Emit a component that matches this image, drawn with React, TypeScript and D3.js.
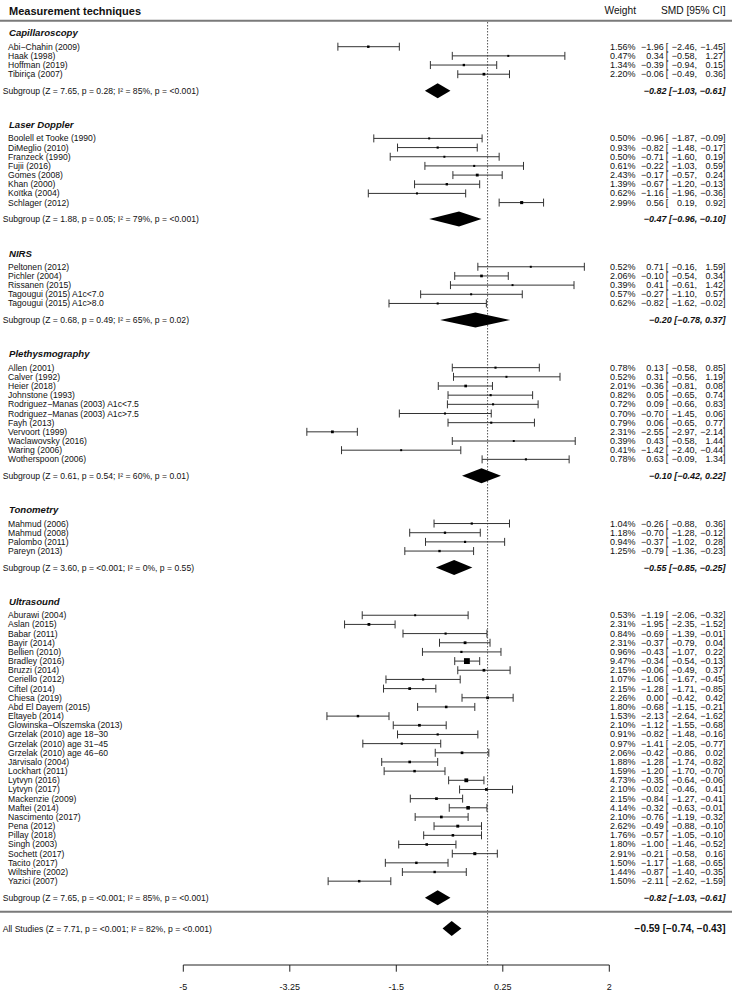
import React from "react";
import * as d3 from "d3";

// ---------- data ----------
const groupNames = ["Capillaroscopy", "Laser Doppler", "NIRS", "Plethysmography", "Tonometry", "Ultrasound"];
const groupSizes = [4, 8, 5, 11, 4, 30];
const groupStats = [
  "Subgroup (Z = 7.65, p = 0.28; I² = 85%, p = <0.001)",
  "Subgroup (Z = 1.88, p = 0.05; I² = 79%, p = <0.001)",
  "Subgroup (Z = 0.68, p = 0.49; I² = 65%, p = 0.02)",
  "Subgroup (Z = 0.61, p = 0.54; I² = 60%, p = 0.01)",
  "Subgroup (Z = 3.60, p = <0.001; I² = 0%, p = 0.55)",
  "Subgroup (Z = 7.65, p = <0.001; I² = 85%, p = <0.001)",
];
const groupEst = [-0.82, -0.47, -0.2, -0.1, -0.55, -0.82];
const groupLo = [-1.03, -0.96, -0.78, -0.42, -0.85, -1.03];
const groupHi = [-0.61, -0.1, 0.37, 0.22, -0.25, -0.61];

const studyLabels = [
  "Abi−Chahin (2009)", "Haak (1998)", "Hoffman (2019)", "Tibiriça (2007)",
  "Boolell et Tooke (1990)", "DiMeglio (2010)", "Franzeck (1990)", "Fujii (2016)", "Gomes (2008)", "Khan (2000)", "Koïtka (2004)", "Schlager (2012)",
  "Peltonen (2012)", "Pichler (2004)", "Rissanen (2015)", "Tagougui (2015) A1c<7.0", "Tagougui (2015) A1c>8.0",
  "Allen (2001)", "Calver (1992)", "Heier (2018)", "Johnstone (1993)", "Rodriguez−Manas (2003) A1c<7.5", "Rodriguez−Manas (2003) A1c>7.5", "Fayh (2013)", "Vervoort (1999)", "Waclawovsky (2016)", "Waring (2006)", "Wotherspoon (2006)",
  "Mahmud (2006)", "Mahmud (2008)", "Palombo (2011)", "Pareyn (2013)",
  "Aburawi (2004)", "Aslan (2015)", "Babar (2011)", "Bayir (2014)", "Bellien (2010)", "Bradley (2016)", "Bruzzi (2014)", "Ceriello (2012)", "Ciftel (2014)", "Chiesa (2019)", "Abd El Dayem (2015)", "Eltayeb (2014)", "Glowinska−Olszemska (2013)", "Grzelak (2010) age 18−30", "Grzelak (2010) age 31−45", "Grzelak (2010) age 46−60", "Järvisalo (2004)", "Lockhart (2011)", "Lytvyn (2016)", "Lytvyn (2017)", "Mackenzie (2009)", "Maftei (2014)", "Nascimento (2017)", "Pena (2012)", "Pillay (2018)", "Singh (2003)", "Sochett (2017)", "Tacito (2017)", "Wiltshire (2002)", "Yazici (2007)",
];
const studyWeights = [
  1.56, 0.47, 1.34, 2.2,
  0.5, 0.93, 0.5, 0.61, 2.43, 1.39, 0.62, 2.99,
  0.52, 2.06, 0.39, 0.57, 0.62,
  0.78, 0.52, 2.01, 0.82, 0.72, 0.7, 0.79, 2.31, 0.39, 0.41, 0.78,
  1.04, 1.18, 0.94, 1.25,
  0.53, 2.31, 0.84, 2.31, 0.96, 9.47, 2.15, 1.07, 2.15, 2.26, 1.8, 1.53, 2.1, 0.91, 0.97, 2.06, 1.88, 1.59, 4.73, 2.1, 2.15, 4.14, 2.1, 2.62, 1.76, 1.8, 2.91, 1.5, 1.44, 1.5,
];
const studyEst = [
  -1.96, 0.34, -0.39, -0.06,
  -0.96, -0.82, -0.71, -0.22, -0.17, -0.67, -1.16, 0.56,
  0.71, -0.1, 0.41, -0.27, -0.82,
  0.13, 0.31, -0.36, 0.05, 0.09, -0.7, 0.06, -2.55, 0.43, -1.42, 0.63,
  -0.26, -0.7, -0.37, -0.79,
  -1.19, -1.95, -0.69, -0.37, -0.43, -0.34, -0.06, -1.06, -1.28, 0.0, -0.68, -2.13, -1.12, -0.82, -1.41, -0.42, -1.28, -1.2, -0.35, -0.02, -0.84, -0.32, -0.76, -0.49, -0.57, -1.0, -0.21, -1.17, -0.87, -2.11,
];
const studyLo = [
  -2.46, -0.58, -0.94, -0.49,
  -1.87, -1.48, -1.6, -1.03, -0.57, -1.2, -1.96, 0.19,
  -0.16, -0.54, -0.61, -1.1, -1.62,
  -0.58, -0.56, -0.81, -0.65, -0.66, -1.45, -0.65, -2.97, -0.58, -2.4, -0.09,
  -0.88, -1.28, -1.02, -1.36,
  -2.06, -2.35, -1.39, -0.79, -1.07, -0.54, -0.49, -1.67, -1.71, -0.42, -1.15, -2.64, -1.55, -1.48, -2.05, -0.86, -1.74, -1.7, -0.64, -0.46, -1.27, -0.63, -1.19, -0.88, -1.05, -1.46, -0.58, -1.68, -1.4, -2.62,
];
const studyHi = [
  -1.45, 1.27, 0.15, 0.36,
  -0.09, -0.17, 0.19, 0.59, 0.24, -0.13, -0.36, 0.92,
  1.59, 0.34, 1.42, 0.57, -0.02,
  0.85, 1.19, 0.08, 0.74, 0.83, 0.06, 0.77, -2.14, 1.44, -0.44, 1.34,
  0.36, -0.12, 0.28, -0.23,
  -0.32, -1.52, -0.01, 0.04, 0.22, -0.13, 0.37, -0.45, -0.85, 0.42, -0.21, -1.62, -0.68, -0.16, -0.77, 0.02, -0.82, -0.7, -0.06, 0.41, -0.41, -0.01, -0.32, -0.1, -0.1, -0.52, 0.16, -0.65, -0.35, -1.59,
];
const overallLabel = "All Studies (Z = 7.71, p = <0.001; I² = 82%, p = <0.001)";
const overallEst = -0.59;
const overallLo = -0.74;
const overallHi = -0.43;
const tickValues = [-5, -3.25, -1.5, 0.25, 2];
const tickLabels = ["-5", "-3.25", "-1.5", "0.25", "2"];

// ---------- layout ----------
const W = 732;
const H = 991;
const FONT = "'Liberation Sans', Arial, Helvetica, sans-serif";

const fmt = (v: number) => {
  const s = Math.abs(v).toFixed(2);
  return v < 0 ? "−" + s : s;
};

export default function App() {
  const x = d3.scaleLinear().domain([-5, 2]).range([183.3, 609.3]);
  const y = d3.scaleLinear().domain([0, 1]).range([46.7, 46.7 + 9.17]);

  const wMin = d3.min(studyWeights) as number;
  const wMax = d3.max(studyWeights) as number;
  const side = d3.scaleLinear().domain([wMin, wMax]).range([1.95, 5.85]);

  const studyRows: number[] = [];
  const groupStart: number[] = [];
  const groupEnd: number[] = [];
  let row = 0;
  let idx = 0;
  groupSizes.forEach((n) => {
    groupStart.push(row);
    for (let i = 0; i < n; i++) {
      studyRows[idx++] = row + i;
    }
    groupEnd.push(row + n - 1);
    row = row + n - 1 + 7;
  });

  const diamond = (est: number, lo: number, hi: number, cy: number, h: number) =>
    `M${x(lo)},${cy} L${x(est)},${cy - h} L${x(hi)},${cy} L${x(est)},${cy + h} Z`;

  const axisY = 965;
  const lineY2 = 911.7;
  const overallY = 928.5;

  const txt = { fontFamily: FONT, fill: "#111" } as const;

  return (
    <svg
      width={W}
      height={H}
      style={{ position: "absolute", left: 0, top: 0, background: "#fff" }}
      xmlns="http://www.w3.org/2000/svg"
    >
      <rect x={0} y={0} width={W} height={H} fill="#fff" />
      <text x={9} y={10.5} dominantBaseline="central" fontSize={11} fontWeight="bold" {...txt}>
        Measurement techniques
      </text>
      <text x={636} y={10.5} dominantBaseline="central" textAnchor="end" fontSize={10.2} {...txt}>
        Weight
      </text>
      <text x={725.5} y={10.5} dominantBaseline="central" textAnchor="end" fontSize={10.2} {...txt}>
        SMD [95% CI]
      </text>
      <line x1={0} x2={W} y1={20.7} y2={20.7} stroke="#7a7a7a" strokeWidth={2} />

      <line x1={x(0)} x2={x(0)} y1={22} y2={axisY} stroke="#555" strokeWidth={1} strokeDasharray="1.5,1.5" />

      {groupNames.map((name, g) => {
        const hy = y(groupStart[g] - 1.5);
        const sy = y(groupEnd[g] + 1.8);
        return (
          <g key={"g" + g}>
            <text x={9} y={hy} dominantBaseline="central" fontSize={9.6} fontWeight="bold" fontStyle="italic" {...txt}>
              {name}
            </text>
            <text x={2.7} y={sy} dominantBaseline="central" fontSize={8.6} {...txt}>
              {groupStats[g]}
            </text>
            <path d={diamond(groupEst[g], groupLo[g], groupHi[g], sy, 7.5)} fill="#000" />
            <text x={725.5} y={sy} dominantBaseline="central" textAnchor="end" fontSize={9} fontWeight="bold" fontStyle="italic" {...txt}>
              {`${fmt(groupEst[g])} [${fmt(groupLo[g])}, ${fmt(groupHi[g])}]`}
            </text>
          </g>
        );
      })}

      {studyLabels.map((lab, i) => {
        const cy = y(studyRows[i]);
        const s = side(studyWeights[i]);
        return (
          <g key={"s" + i}>
            <text x={8} y={cy} dominantBaseline="central" fontSize={8.6} {...txt}>
              {lab}
            </text>
            <line x1={x(studyLo[i])} x2={x(studyHi[i])} y1={cy} y2={cy} stroke="#333" strokeWidth={1} />
            <line x1={x(studyLo[i])} x2={x(studyLo[i])} y1={cy - 4} y2={cy + 4} stroke="#333" strokeWidth={1} />
            <line x1={x(studyHi[i])} x2={x(studyHi[i])} y1={cy - 4} y2={cy + 4} stroke="#333" strokeWidth={1} />
            <rect x={x(studyEst[i]) - s / 2} y={cy - s / 2} width={s} height={s} fill="#000" />
            <text x={635.5} y={cy} dominantBaseline="central" textAnchor="end" fontSize={9} {...txt}>
              {studyWeights[i].toFixed(2) + "%"}
            </text>
            <text x={663.8} y={cy} dominantBaseline="central" textAnchor="end" fontSize={9} {...txt}>
              {fmt(studyEst[i])}
            </text>
            <text x={665.8} y={cy} dominantBaseline="central" textAnchor="start" fontSize={9} {...txt}>
              [
            </text>
            <text x={697} y={cy} dominantBaseline="central" textAnchor="end" fontSize={9} {...txt}>
              {fmt(studyLo[i]) + ","}
            </text>
            <text x={725.5} y={cy} dominantBaseline="central" textAnchor="end" fontSize={9} {...txt}>
              {fmt(studyHi[i]) + "]"}
            </text>
          </g>
        );
      })}

      <line x1={0} x2={W} y1={lineY2} y2={lineY2} stroke="#7a7a7a" strokeWidth={2} />
      <text x={2.7} y={overallY} dominantBaseline="central" fontSize={8.6} {...txt}>
        {overallLabel}
      </text>
      <path d={diamond(overallEst, overallLo, overallHi, overallY, 7.5)} fill="#000" />
      <text x={725.5} y={overallY} dominantBaseline="central" textAnchor="end" fontSize={10} fontWeight="bold" {...txt}>
        {`${fmt(overallEst)} [${fmt(overallLo)}, ${fmt(overallHi)}]`}
      </text>

      <line x1={x(-5)} x2={x(2)} y1={axisY} y2={axisY} stroke="#222" strokeWidth={1} />
      {tickValues.map((t, i) => (
        <g key={"t" + i}>
          <line x1={x(t)} x2={x(t)} y1={axisY} y2={axisY + 6.7} stroke="#222" strokeWidth={1} />
          <text x={x(t)} y={986.7} dominantBaseline="central" textAnchor="middle" fontSize={9} {...txt}>
            {tickLabels[i]}
          </text>
        </g>
      ))}
    </svg>
  );
}
